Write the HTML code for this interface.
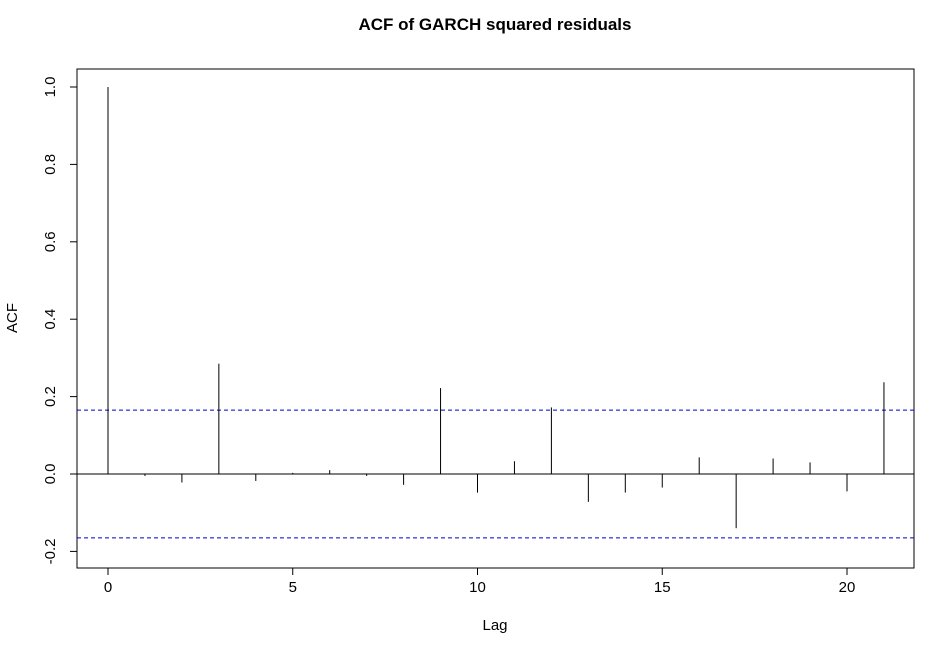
<!DOCTYPE html>
<html><head><meta charset="utf-8"><style>
body{margin:0;background:#fff}
svg text{font-family:"Liberation Sans",Arial,sans-serif;fill:#000}
</style></head><body>
<svg id="chart" width="941" height="643" xmlns="http://www.w3.org/2000/svg">
<text x="495" y="30" text-anchor="middle" font-size="17" font-weight="bold">ACF of GARCH squared residuals</text>
<rect x="77" y="69" width="837" height="499" fill="none" stroke="#000" stroke-width="1"/>
<text x="495" y="630" text-anchor="middle" font-size="15">Lag</text>
<text transform="translate(17,318) rotate(-90)" text-anchor="middle" font-size="15">ACF</text>
<g id="marks"></g>
</svg>
<script>
const lags=[0,1,2,3,4,5,6,7,8,9,10,11,12,13,14,15,16,17,18,19,20,21];
const acf=[1.0,-0.005,-0.022,0.285,-0.018,0.003,0.01,-0.005,-0.028,0.222,-0.048,0.033,0.172,-0.072,-0.048,-0.035,0.043,-0.14,0.04,0.03,-0.045,0.237];
const ci=0.165;
const xTicks=[0,5,10,15,20];
const yTicks=[-0.2,0.0,0.2,0.4,0.6,0.8,1.0];
const NS='http://www.w3.org/2000/svg';
const xs=v=>108+v*36.95;
const ys=v=>474-v*387;
const g=document.getElementById('marks');
function mk(t,a){const e=document.createElementNS(NS,t);for(const k in a)e.setAttribute(k,a[k]);g.appendChild(e);return e;}
// zero line
let z=mk('line',{x1:77,x2:914,y1:ys(0),y2:ys(0),stroke:'#000'});


[ci,-ci].forEach((c,i)=>{
 const l=mk('line',{x1:77,x2:914,y1:ys(c),y2:ys(c),stroke:'#0000cc','stroke-dasharray':'4,3'});
 
 
});
lags.forEach((lag,i)=>{
 const b=mk('line',{x1:xs(lag),x2:xs(lag),y1:ys(0),y2:ys(acf[i]),stroke:'#000'});
 
 
});
xTicks.forEach(t=>{
 const l=mk('line',{x1:xs(t),x2:xs(t),y1:568,y2:575,stroke:'#000'});
 
 
 const tx=mk('text',{x:xs(t),y:592,'text-anchor':'middle','font-size':15});
 tx.textContent=t;
 
 
});
const xa=mk('line',{x1:xs(0),x2:xs(20),y1:568,y2:568,stroke:'#000'});


yTicks.forEach(t=>{
 const l=mk('line',{x1:70,x2:77,y1:ys(t),y2:ys(t),stroke:'#000'});
 
 
 const tx=mk('text',{transform:`translate(55,${ys(t)}) rotate(-90)`,'text-anchor':'middle','font-size':15});
 tx.textContent=t.toFixed(1);
 
 
});
</script>
</body></html>
